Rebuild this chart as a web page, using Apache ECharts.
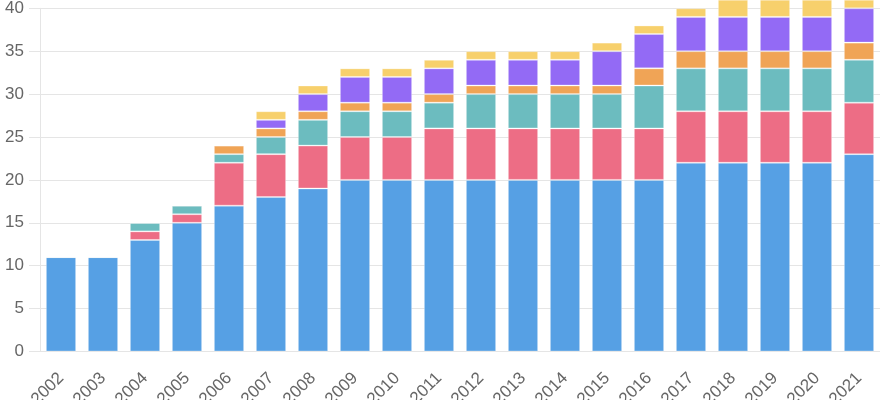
<!DOCTYPE html>
<html>
<head>
<meta charset="utf-8">
<script src="https://cdn.jsdelivr.net/npm/echarts@6/dist/echarts.min.js"></script>
<style>
html,body{margin:0;padding:0;background:#fff;}
#chart{width:880px;height:400px;}
</style>
</head>
<body>
<div id="chart"></div>
<script>
const years = ['2002','2003','2004','2005','2006','2007','2008','2009','2010','2011','2012','2013','2014','2015','2016','2017','2018','2019','2020','2021'];
const seriesBlue   = [11,11,13,15,17,18,19,20,20,20,20,20,20,20,20,22,22,22,22,23];
const seriesRed    = [0,0,1,1,5,5,5,5,5,6,6,6,6,6,6,6,6,6,6,6];
const seriesTeal   = [0,0,1,1,1,2,3,3,3,3,4,4,4,4,5,5,5,5,5,5];
const seriesOrange = [0,0,0,0,1,1,1,1,1,1,1,1,1,1,2,2,2,2,2,2];
const seriesPurple = [0,0,0,0,0,1,2,3,3,3,3,3,3,4,4,4,4,4,4,4];
const seriesYellow = [0,0,0,0,0,1,1,1,1,1,1,1,1,1,1,1,2,2,2,1];
const yMin = 0, yMax = 40, yStep = 5;

const seriesList = [
  {name:'A', data:seriesBlue,   color:'#56a0e4'},
  {name:'B', data:seriesRed,    color:'#ed6d85'},
  {name:'C', data:seriesTeal,   color:'#6cbcbf'},
  {name:'D', data:seriesOrange, color:'#f0a456'},
  {name:'E', data:seriesPurple, color:'#936af5'},
  {name:'F', data:seriesYellow, color:'#f7d06c'}
];

const chart = echarts.init(document.getElementById('chart'), null, {renderer:'canvas'});
const gridColor = '#e5e5e5';
chart.setOption({
  animation:false,
  backgroundColor:'#ffffff',
  grid:{left:40, right:0, top:8.3, bottom:48.5, containLabel:false, outerBoundsMode:'none'},
  xAxis:{
    type:'category',
    data:years,
    axisLine:{show:true, lineStyle:{color:gridColor, width:1}},
    axisTick:{show:false},
    splitLine:{show:false},
    axisLabel:{
      rotate:45, color:'#666', fontSize:17,
      fontFamily:'"Liberation Sans", Arial, Helvetica, sans-serif',
      margin:24, interval:0
    }
  },
  yAxis:{
    type:'value',
    min:yMin, max:yMax, interval:yStep,
    axisLine:{show:true, lineStyle:{color:gridColor, width:1}},
    axisTick:{show:true, length:11, lineStyle:{color:gridColor, width:1}},
    splitLine:{show:true, lineStyle:{color:gridColor, width:1}},
    axisLabel:{
      color:'#666', fontSize:17, margin:16,
      fontFamily:'"Liberation Sans", Arial, Helvetica, sans-serif'
    }
  },
  series: seriesList.map(s => ({
    name:s.name,
    type:'bar',
    stack:'total',
    barWidth:'72%',
    clip:false,
    data:s.data,
    itemStyle:{color:s.color, borderColor:'rgba(255,255,255,0.28)', borderWidth:1}
  }))
});
</script>
</body>
</html>
